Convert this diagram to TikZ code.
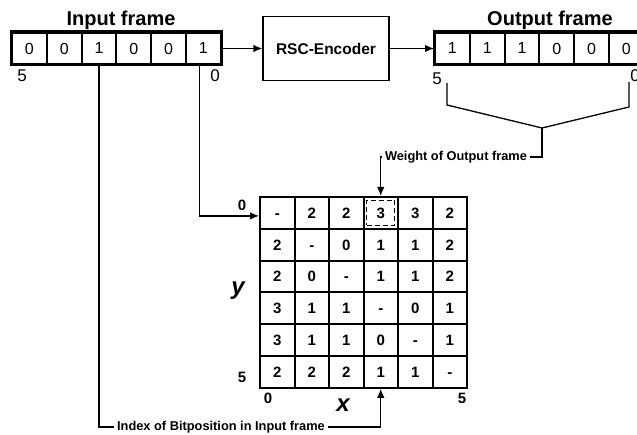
\documentclass[tikz,border=0pt]{standalone}
\usepackage{fontspec}
\setmainfont{Liberation Sans}
\usetikzlibrary{arrows.meta, positioning}

\begin{document}
\begin{tikzpicture}
    [
        x=1pt, y=-1pt, node distance=34.8pt,
        bit/.style={draw, line width=2pt, minimum width=34.8pt, minimum height=31pt, inner sep=0pt, font=\fontsize{16}{16}\selectfont},
        cell/.style={draw, line width=2pt, minimum width=34.5pt, minimum height=31.8pt, inner sep=0pt, text height=10.7pt, text depth=0pt, font=\fontsize{15}{15}\selectfont\bfseries},
        title/.style={font=\fontsize{20}{20}\selectfont\bfseries},
        idx/.style={font=\fontsize{17}{17}\selectfont},
        axislabel/.style={font=\fontsize{15}{15}\selectfont\bfseries},
        varlabel/.style={font=\fontsize{24}{24}\selectfont\bfseries\itshape},
        note/.style={font=\fontsize{12.8}{12.8}\selectfont\bfseries, inner sep=3pt},
        coder/.style={draw, line width=1.2pt, minimum width=126pt, minimum height=64pt, font=\fontsize{15.5}{15.5}\selectfont\bfseries}
    ]
    \tikzstyle{line} = [draw, line width=1.3pt, -{Latex[length=9pt,width=7.5pt]}]
    \tikzstyle{wire} = [draw, line width=1.3pt]

    \useasboundingbox (0,0) rectangle (637,435);
    \clip (0,0) rectangle (637,435);

    % input frame, bit 5 on the left
    \node[title] (in_title) at (121,20) {Input frame};
    \node[bit] (in5) at (29.4,48.5) {0};
    \node[bit, right of=in5] (in4) {0};
    \node[bit, right of=in4] (in3) {1};
    \node[bit, right of=in3] (in2) {0};
    \node[bit, right of=in2] (in1) {0};
    \node[bit, right of=in1] (in0) {1};
    \draw[line width=3pt] (in5.north west) rectangle (in0.south east);
    \node[idx] (in_msb) at (22,76) {5};
    \node[idx] (in_lsb) at (215,76) {0};

    \node[coder] (enc) at (326,48.5) {RSC-Encoder};

    % output frame
    \node[title] (out_title) at (550,20) {Output frame};
    \node[bit] (out5) at (452.4,48.5) {1};
    \node[bit, right of=out5] (out4) {1};
    \node[bit, right of=out4] (out3) {1};
    \node[bit, right of=out3] (out2) {0};
    \node[bit, right of=out2] (out1) {0};
    \node[bit, right of=out1] (out0) {0};
    \draw[line width=3pt] (out5.north west) rectangle (out0.south east);
    \node[idx] (out_msb) at (437,79) {5};
    \node[idx] (out_lsb) at (635,76) {0};

    \path[line] (in0.east) -- (enc.west);
    \path[line] (enc.east) -- (out5.west);

    % weight table
    \foreach \row [count=\r from 0] in {{-,2,2,3,3,2},{2,-,0,1,1,2},{2,0,-,1,1,2},{3,1,1,-,0,1},{3,1,1,0,-,1},{2,2,2,1,1,-}}
        \foreach \val [count=\c from 0] in \row
            \node[cell] (m-\r-\c) at (277.25+34.5*\c, 212.9+31.8*\r) {\val};
    \node[draw, dashed, dash pattern=on 5pt off 3pt, line width=1pt, minimum width=28pt, minimum height=25pt] (hit) at (m-0-3) {};

    \node[axislabel] (row_first) at (242,205) {0};
    \node[axislabel] (row_last) at (242,377) {5};
    \node[axislabel] (col_first) at (268,398) {0};
    \node[axislabel] (col_last) at (462,398) {5};
    \node[varlabel] (ylab) at (238,291) {y};
    \node[varlabel] (xlab) at (343,405) {x};

    \path[line] ([xshift=-4pt]in0.south) |- ([yshift=-3pt]m-0-0.west);

    % bit index into the table
    \node[note] (bitidx) at (221,427) {Index of Bitposition in Input frame};
    \path[wire] (in3.south) |- (bitidx.west);
    \path[line] (bitidx.east) -| (m-5-3.south);

    % weight of the output frame
    \coordinate (br_l) at (447,83);
    \coordinate (br_r) at (629,82);
    \coordinate (br_m) at (542,128);
    \node[note] (wgt) at (456,157) {Weight of Output frame};
    \path[wire] (br_l) -- ++(0,22) -- (br_m) -- (629,107) -- (br_r);
    \path[wire] (br_m) |- (wgt.east);
    \path[line] (wgt.west) -| (m-0-3.north);

\end{tikzpicture}
\end{document}
